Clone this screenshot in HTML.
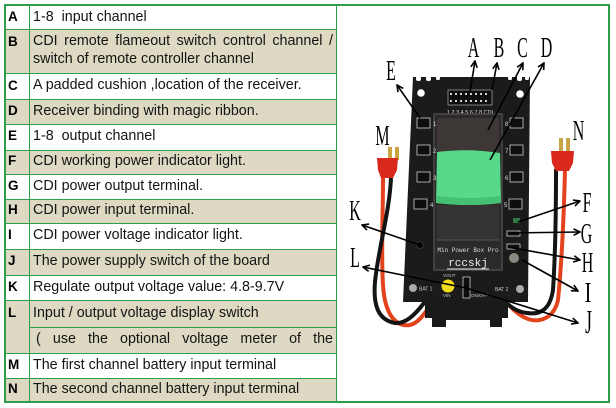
<!DOCTYPE html>
<html><head><meta charset="utf-8"><style>
html,body{margin:0;padding:0;background:#fff;}
body{width:616px;height:408px;position:relative;overflow:hidden;font-family:"Liberation Sans",Arial,sans-serif;}
.r{position:absolute;left:6px;width:330px;}
.bg{background:#ddd9c3}
.h{position:absolute;left:6px;width:330px;height:1px;background:#2e9e4a}
.t{position:absolute;left:33px;font-size:14.3px;line-height:18px;color:#141414;white-space:nowrap}
.k{position:absolute;left:8px;font-size:13.5px;font-weight:bold;line-height:18px;color:#000}
.j{white-space:normal;text-align:justify;text-align-last:justify}
.fr{position:absolute;background:#2e9e4a}
</style></head><body>

<!-- beige rows -->
<div class="r bg" style="top:30px;height:43px"></div>
<div class="r bg" style="top:100px;height:24px"></div>
<div class="r bg" style="top:151px;height:23px"></div>
<div class="r bg" style="top:200px;height:23px"></div>
<div class="r bg" style="top:250px;height:25px"></div>
<div class="r bg" style="top:301px;height:52px"></div>
<div class="r bg" style="top:379px;height:23px"></div>

<!-- horizontal lines -->
<div class="h" style="top:29px"></div>
<div class="h" style="top:73px"></div>
<div class="h" style="top:99px"></div>
<div class="h" style="top:124px"></div>
<div class="h" style="top:150px"></div>
<div class="h" style="top:174px"></div>
<div class="h" style="top:199px"></div>
<div class="h" style="top:223px"></div>
<div class="h" style="top:249px"></div>
<div class="h" style="top:275px"></div>
<div class="h" style="top:300px"></div>
<div class="h" style="top:327px;left:29px;width:307px"></div>
<div class="h" style="top:353px"></div>
<div class="h" style="top:378px"></div>

<!-- frame -->
<div class="fr" style="left:4px;top:4px;width:606px;height:2px"></div>
<div class="fr" style="left:4px;top:401px;width:606px;height:2px"></div>
<div class="fr" style="left:4px;top:4px;width:2px;height:399px"></div>
<div class="fr" style="left:608px;top:4px;width:2px;height:399px"></div>
<div class="fr" style="left:29px;top:6px;width:1px;height:395px"></div>
<div class="fr" style="left:336px;top:6px;width:1px;height:395px"></div>

<!-- letters -->
<div class="k" style="top:8px">A</div>
<div class="k" style="top:32.6px">B</div>
<div class="k" style="top:76.6px">C</div>
<div class="k" style="top:101.8px">D</div>
<div class="k" style="top:127.3px">E</div>
<div class="k" style="top:152.3px">F</div>
<div class="k" style="top:176.8px">G</div>
<div class="k" style="top:201.3px">H</div>
<div class="k" style="top:226.3px">I</div>
<div class="k" style="top:252.3px">J</div>
<div class="k" style="top:277.8px">K</div>
<div class="k" style="top:303.8px">L</div>
<div class="k" style="top:355.8px">M</div>
<div class="k" style="top:380.3px">N</div>

<!-- texts -->
<div class="t" style="top:8px">1-8&nbsp; input channel</div>
<div class="t j" style="top:32.4px;width:300px">CDI remote flameout switch control channel /</div>
<div class="t" style="top:50px">switch of remote controller channel</div>
<div class="t" style="top:76.3px">A padded cushion ,location of the receiver.</div>
<div class="t" style="top:101.5px">Receiver binding with magic ribbon.</div>
<div class="t" style="top:127px">1-8&nbsp; output channel</div>
<div class="t" style="top:152px">CDI working power indicator light.</div>
<div class="t" style="top:176.5px">CDI power output terminal.</div>
<div class="t" style="top:201px">CDI power input terminal.</div>
<div class="t" style="top:226px">CDI power voltage indicator light.</div>
<div class="t" style="top:252px">The power supply switch of the board</div>
<div class="t" style="top:277.5px">Regulate output voltage value: 4.8-9.7V</div>
<div class="t" style="top:303.5px">Input / output voltage display switch</div>
<div class="t j" style="top:330px;left:36px;width:297px">( use the optional voltage meter of the</div>
<div class="t" style="top:355.5px">The first channel battery input terminal</div>
<div class="t" style="top:380px">The second channel battery input terminal</div>

<svg style="position:absolute;left:0;top:0" width="616" height="408" viewBox="0 0 616 408" xmlns="http://www.w3.org/2000/svg">
<defs>
<marker id="ah" viewBox="0 0 10 10" refX="9" refY="5" markerWidth="8" markerHeight="8" markerUnits="userSpaceOnUse" orient="auto">
<path d="M1,1 L9,5 L1,9" stroke="#000" stroke-width="2" fill="none"/>
</marker>
</defs>

<!-- wires -->
<g fill="none" stroke-width="4" stroke-linecap="round">
<path d="M383,177 C383,215 381,255 383,285 C385,318 398,327 410,325 C418,323 424,315 430,305" stroke="#e2421c"/>
<path d="M391,177 C390,210 378,250 375,282 C373,305 378,320 395,323 C405,324 414,316 424,303" stroke="#141414"/>
<path d="M565,170 C564,210 562,260 558,300 C554,318 540,323 528,319 C520,316 514,311 508,304" stroke="#e2421c"/>
<path d="M556,170 C556,210 555,260 553,290 C550,310 540,315 527,313 C518,312 512,308 505,302" stroke="#141414"/>
</g>

<!-- board -->
<polygon points="413,77 530,77 528,302 403,302" fill="#1b1b1b"/>
<g fill="#fff">
<rect x="416" y="76" width="5" height="5" rx="2"/>
<rect x="426" y="76" width="5" height="5" rx="2"/>
<rect x="436" y="76" width="4" height="4" rx="1.5"/>
<rect x="508" y="76" width="4" height="4" rx="1.5"/>
<rect x="517" y="76" width="5" height="5" rx="2"/>
<rect x="525" y="76" width="4" height="4" rx="1.5"/>
<circle cx="421" cy="93" r="3.8"/>
<circle cx="520" cy="94" r="3.8"/>
</g>
<!-- bracket -->
<path d="M425,301 L508,301 L508,318 L502,318 L502,327 L490,327 L490,320 L446,320 L446,327 L432,327 L432,318 L425,318 Z" fill="#1a1a1a"/>

<!-- header A -->
<rect x="448" y="90" width="44" height="15" fill="#0e0e0e" stroke="#9a9a9a" stroke-width="0.8"/>
<g fill="#cfcfcf">
<rect x="450" y="93" width="2" height="2"/><rect x="455" y="93" width="2" height="2"/><rect x="460" y="93" width="2" height="2"/><rect x="465" y="93" width="2" height="2"/><rect x="470" y="93" width="2" height="2"/><rect x="475" y="93" width="2" height="2"/><rect x="480" y="93" width="2" height="2"/><rect x="485" y="93" width="2" height="2"/>
<rect x="450" y="100" width="2" height="2"/><rect x="455" y="100" width="2" height="2"/><rect x="460" y="100" width="2" height="2"/><rect x="465" y="100" width="2" height="2"/><rect x="470" y="100" width="2" height="2"/><rect x="475" y="100" width="2" height="2"/><rect x="480" y="100" width="2" height="2"/><rect x="485" y="100" width="2" height="2"/>
</g>
<text x="470" y="114" font-family="Liberation Sans" font-size="5.5" fill="#ddd" text-anchor="middle">1 2 3 4 5 6 7 8 CDI</text>

<!-- window -->
<rect x="434" y="114" width="68" height="156" fill="#2b2929" stroke="#4a4a4a" stroke-width="1.5"/>
<rect x="437" y="118" width="62" height="36" fill="#3d3835"/>
<path d="M437,152 Q468,148 500,153 L501,203 Q470,207 436,203 Z" fill="#58d98a"/>
<path d="M437,196 Q470,200 501,196 L501,203 Q470,207 436,203 Z" fill="#44c271"/>
<rect x="437" y="205" width="62" height="35" fill="#363333"/>
<line x1="437" y1="240" x2="499" y2="240" stroke="#555" stroke-width="1"/>
<text x="468" y="252" font-family="Liberation Mono" font-size="6" fill="#ddd" text-anchor="middle">Min Power Box Pro</text>
<text x="468" y="266" font-family="Liberation Mono" font-size="11" fill="#eee" text-anchor="middle">rccskj</text>
<line x1="447" y1="269" x2="489" y2="269" stroke="#eee" stroke-width="1"/>

<!-- side connectors -->
<g fill="#0e0e0e" stroke="#ccc" stroke-width="0.8">
<rect x="417" y="118" width="13" height="10"/><rect x="417" y="145" width="13" height="10"/><rect x="417" y="172" width="13" height="10"/><rect x="414" y="199" width="13" height="10"/>
<rect x="510" y="118" width="13" height="10"/><rect x="510" y="145" width="13" height="10"/><rect x="510" y="172" width="13" height="10"/><rect x="509" y="199" width="13" height="10"/>
<rect x="507" y="231" width="13" height="5"/><rect x="507" y="244" width="13" height="5"/>
<rect x="463" y="277" width="7" height="21"/>
</g>
<g fill="#ddd" font-family="Liberation Sans" font-size="6">
<text x="433" y="126">1</text><text x="433" y="153">2</text><text x="433" y="180">3</text><text x="430" y="207">4</text>
<text x="505" y="126">8</text><text x="505" y="153">7</text><text x="505" y="180">6</text><text x="504" y="207">5</text>
</g>
<g fill="#ccc" font-family="Liberation Sans" font-size="5">
<text x="419" y="290.5">BAT 1</text>
<text x="495" y="291">BAT 2</text>
<text x="443" y="277" font-size="4.5">VOUT</text>
<text x="443" y="297" font-size="4.5">VIN</text>
<text x="471" y="297" font-size="4.5">ON/OFF</text>
</g>
<circle cx="413" cy="288" r="4" fill="#aaa"/>
<circle cx="520" cy="289" r="4" fill="#aaa"/>
<circle cx="448" cy="286" r="6.5" fill="#f3dc1e"/>
<circle cx="420" cy="245" r="3.5" fill="#050505" stroke="#333"/>
<rect x="513" y="218" width="7" height="5" fill="#2f7a45"/>
<circle cx="514" cy="258" r="5" fill="#8a8a80"/>

<!-- battery connectors -->
<rect x="388" y="147" width="4" height="13" fill="#c9a445"/>
<rect x="395" y="147" width="4" height="13" fill="#c9a445"/>
<path d="M377,158 L398,158 L397,170 L393,178 L381,178 L378,170 Z" fill="#d9281c"/>
<rect x="559" y="138" width="4" height="15" fill="#c9a445"/>
<rect x="566" y="138" width="4" height="15" fill="#c9a445"/>
<path d="M551,151 L574,151 L573,163 L569,171 L556,171 L552,163 Z" fill="#d9281c"/>

<!-- arrows -->
<g stroke="#000" stroke-width="1.6" fill="none" marker-end="url(#ah)">
<line x1="470" y1="92" x2="475" y2="61"/>
<line x1="492" y1="90" x2="497" y2="63"/>
<line x1="488" y1="130" x2="523" y2="63"/>
<line x1="490" y1="160" x2="544" y2="63"/>
<line x1="420" y1="118" x2="397" y2="85"/>
<line x1="420" y1="245" x2="362" y2="225"/>
<line x1="466" y1="288" x2="363" y2="267"/>
<line x1="466" y1="288" x2="578" y2="323"/>
<line x1="518" y1="222" x2="580" y2="201"/>
<line x1="508" y1="233" x2="580" y2="232"/>
<line x1="508" y1="247" x2="580" y2="260"/>
<line x1="522" y1="260" x2="578" y2="291"/>
</g>

<!-- labels -->
<g font-family="Liberation Serif" font-size="29" fill="#000" text-anchor="middle">
<text transform="translate(473.5,57) scale(0.55,1)">A</text>
<text transform="translate(499,57) scale(0.55,1)">B</text>
<text transform="translate(522.5,57) scale(0.55,1)">C</text>
<text transform="translate(546.5,57) scale(0.55,1)">D</text>
<text transform="translate(391,80) scale(0.55,1)">E</text>
<text transform="translate(382.5,145) scale(0.55,1)">M</text>
<text transform="translate(578.5,140) scale(0.55,1)">N</text>
<text transform="translate(355,220) scale(0.55,1)">K</text>
<text transform="translate(355,267) scale(0.55,1)">L</text>
<text transform="translate(587,212) scale(0.55,1)">F</text>
<text transform="translate(586.5,243) scale(0.55,1)">G</text>
<text transform="translate(587.5,272) scale(0.55,1)">H</text>
<text transform="translate(588,302) scale(0.7,1)">I</text>
<text transform="translate(588.5,333) scale(0.6,1.15)">J</text>
</g>
</svg>
</body></html>
